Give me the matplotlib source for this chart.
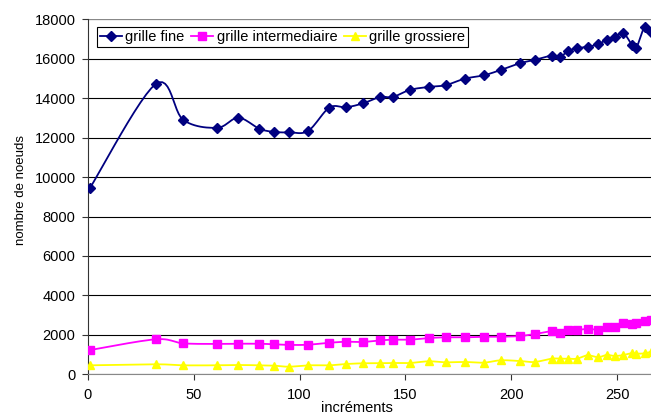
import numpy as np
import matplotlib
matplotlib.use('agg')
matplotlib.rcParams.update({'font.family': ['Liberation Sans', 'DejaVu Sans'],
                            'font.size': 10})
import matplotlib.pyplot as plt

# values
increments = [1, 32, 45, 61, 71, 81, 88, 95, 104, 114, 122, 130, 138, 144, 152,
              161, 169, 178, 187, 195, 204, 211, 219, 223, 227, 231, 236, 241,
              245, 249, 253, 257, 259, 263, 266]
grille_fine = [9460, 14720, 12900, 12500, 13010, 12450, 12290, 12270, 12340,
               13520, 13540, 13740, 14060, 14060, 14420, 14570, 14660, 14990,
               15160, 15430, 15770, 15940, 16160, 16100, 16400, 16530, 16610,
               16730, 16970, 17100, 17290, 16700, 16530, 17630, 17340]
grille_inter = [1230, 1775, 1570, 1540, 1550, 1550, 1520, 1490, 1500, 1600,
                1650, 1640, 1720, 1755, 1755, 1840, 1875, 1875, 1905, 1905,
                1940, 2040, 2180, 2095, 2260, 2245, 2310, 2260, 2380, 2380,
                2615, 2535, 2615, 2700, 2740]
grille_gros = [456, 507, 456, 456, 471, 456, 436, 385, 456, 456, 522, 558, 558,
               573, 573, 659, 608, 625, 591, 710, 674, 624, 791, 791, 791, 791,
               963, 862, 979, 928, 979, 1080, 1045, 1063, 1146]


def smooth(x, y, n=12):
    # Catmull-Rom style curve through the points (like Excel's smoothed lines)
    x = np.asarray(x, float)
    y = np.asarray(y, float)
    px = np.concatenate([[x[0]], x, [x[-1]]])
    py = np.concatenate([[y[0]], y, [y[-1]]])
    xs, ys = [], []
    t = np.linspace(0, 1, n, endpoint=False)
    for i in range(1, len(px) - 2):
        p0, p1, p2, p3 = (np.array([px[j], py[j]]) for j in range(i - 1, i + 3))
        c1 = p1 + (p2 - p0) / 6
        c2 = p2 - (p3 - p1) / 6
        pts = ((1 - t) ** 3)[:, None] * p1 + (3 * (1 - t) ** 2 * t)[:, None] * c1 \
            + (3 * (1 - t) * t ** 2)[:, None] * c2 + (t ** 3)[:, None] * p2
        xs.extend(pts[:, 0])
        ys.extend(pts[:, 1])
    xs.append(x[-1])
    ys.append(y[-1])
    return xs, ys


fig = plt.figure(figsize=(6.51, 4.17), dpi=100)
ax = fig.add_axes([88 / 651, 42.7 / 417, 563 / 651, 355 / 417])

series = [
    (grille_fine, 'grille fine', '#000080', 'D', 5),
    (grille_inter, 'grille intermediaire', '#FF00FF', 's', 5.5),
    (grille_gros, 'grille grossiere', '#FFFF00', '^', 6),
]
for vals, label, col, mk, ms in series:
    sx, sy = smooth(increments, vals)
    ax.plot(sx, sy, color=col, lw=1.3, zorder=3, clip_on=True)
    ax.plot(increments, vals, linestyle='none', marker=mk, ms=ms, color=col,
            zorder=4)
    ax.plot([], [], color=col, lw=1.3, marker=mk, ms=ms, label=label)

ax.set_xlim(0, 266)
ax.set_ylim(0, 18000)
ax.set_xticks([0, 50, 100, 150, 200, 250])
ax.set_yticks(range(0, 18001, 2000))
ax.grid(axis='y', color='black', lw=0.8)
ax.set_axisbelow(True)
ax.tick_params(direction='out', length=4, width=0.8, color='#333333',
               labelsize=10.5)
ax.tick_params(axis='x', pad=6)
ax.tick_params(axis='y', pad=5)
for side in ['top', 'right']:
    ax.spines[side].set_visible(False)
ax.spines['left'].set_color('#333333')
ax.spines['bottom'].set_color('#888888')
ax.axhline(18000, color='#888888', lw=1.5, zorder=1)

ax.set_xlabel('incréments', fontsize=10.5)
ax.xaxis.set_label_coords(0.478, -0.075)
ax.set_ylabel('nombre de noeuds', fontsize=9.5)
ax.yaxis.set_label_coords(-0.108, 0.52)

handles, labels = ax.get_legend_handles_labels()
leg = ax.legend(handles, labels, ncol=3, loc='upper left',
                bbox_to_anchor=(0.016, 0.978), fancybox=False, framealpha=1,
                edgecolor='black', fontsize=10.5, handlelength=1.5,
                handletextpad=0.25, columnspacing=0.45, borderpad=0.2,
                borderaxespad=0)
leg.get_frame().set_linewidth(0.8)

fig.savefig('out.png', dpi=100)
